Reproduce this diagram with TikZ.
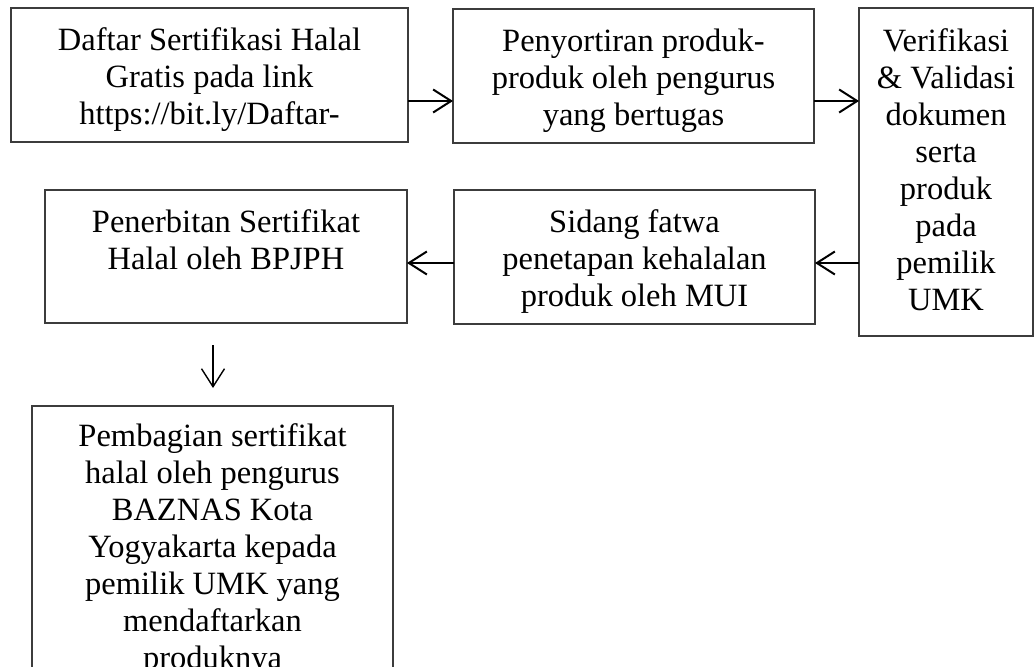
\documentclass[tikz,border=0pt]{standalone}
\usepackage{fontspec}
\setmainfont{Liberation Serif}
\usetikzlibrary{arrows.meta,calc}
\newcommand\fs[1]{\fontsize{32.5}{#1}\selectfont}
\newcommand\tp{\rule{0pt}{24pt}}
\definecolor{edge}{RGB}{60,60,60}
\begin{document}
\begin{tikzpicture}[x=1pt,y=-1pt,
  box/.style={draw=edge,line width=1.4pt,rectangle,inner sep=0pt,outer sep=0pt,anchor=north west},
  txt/.style={align=center,inner sep=0pt,anchor=north,font=\fs{37}},
  arr/.style={line width=2pt,-{Straight Barb[length=18pt,width=23pt,line width=2pt]}},
  varr/.style={line width=1.4pt,-{Straight Barb[length=18pt,width=23pt,line width=1.4pt]}}]
\clip (0,0) rectangle (1035,666);
% boxes
\node[box,minimum width=397pt,minimum height=134pt] (b1) at (11,8) {};
\node[box,minimum width=361pt,minimum height=134pt] (b2) at (453,9) {};
\node[box,minimum width=174pt,minimum height=328pt] (b3) at (859,8) {};
\node[box,minimum width=361pt,minimum height=134pt] (b4) at (454,190) {};
\node[box,minimum width=362pt,minimum height=133pt] (b5) at (45,190) {};
\node[box,minimum width=361pt,minimum height=320pt] (b6) at (32,406) {};
% texts
\node[txt] (t1) at ($(b1.north)+(0,18)$) {\tp Daftar Sertifikasi Halal\\Gratis pada link\\https://bit.ly/Daftar-};
\node[txt] (t2) at ($(b2.north)+(0,18)$) {\tp Penyortiran produk-\\produk oleh pengurus\\yang bertugas};
\node[txt] (t3) at ($(b3.north)+(0,19)$) {\tp Verifikasi\\\& Validasi\\dokumen\\serta\\produk\\pada\\pemilik\\UMK};
\node[txt] (t4) at ($(b4.north)+(0,18)$) {\tp Sidang fatwa\\penetapan kehalalan\\produk oleh MUI};
\node[txt] (t5) at ($(b5.north)+(0,18)$) {\tp Penerbitan Sertifikat\\Halal oleh BPJPH};
\node[txt] (t6) at ($(b6.north)+(0,16)$) {\tp Pembagian sertifikat\\halal oleh pengurus\\BAZNAS Kota\\Yogyakarta kepada\\pemilik UMK yang\\mendaftarkan\\produknya};
% connectors
\coordinate (a1) at ($(b1.east)+(0,26)$);
\draw[arr] (a1) -- (a1 -| b2.west);
\coordinate (a2) at ($(b2.east)+(0,25)$);
\draw[arr] (a2) -- (a2 -| b3.west);
\coordinate (a3) at ($(b4.east)+(0,6)$);
\draw[arr] (a3 -| b3.west) -- (a3);
\coordinate (a4) at ($(b5.east)+(0,6.5)$);
\draw[arr] (a4 -| b4.west) -- (a4);
\draw[varr] ($(b5.south)+(-13,22)$) -- ($(b6.north)+(0.5,-18)$);
\end{tikzpicture}
\end{document}
